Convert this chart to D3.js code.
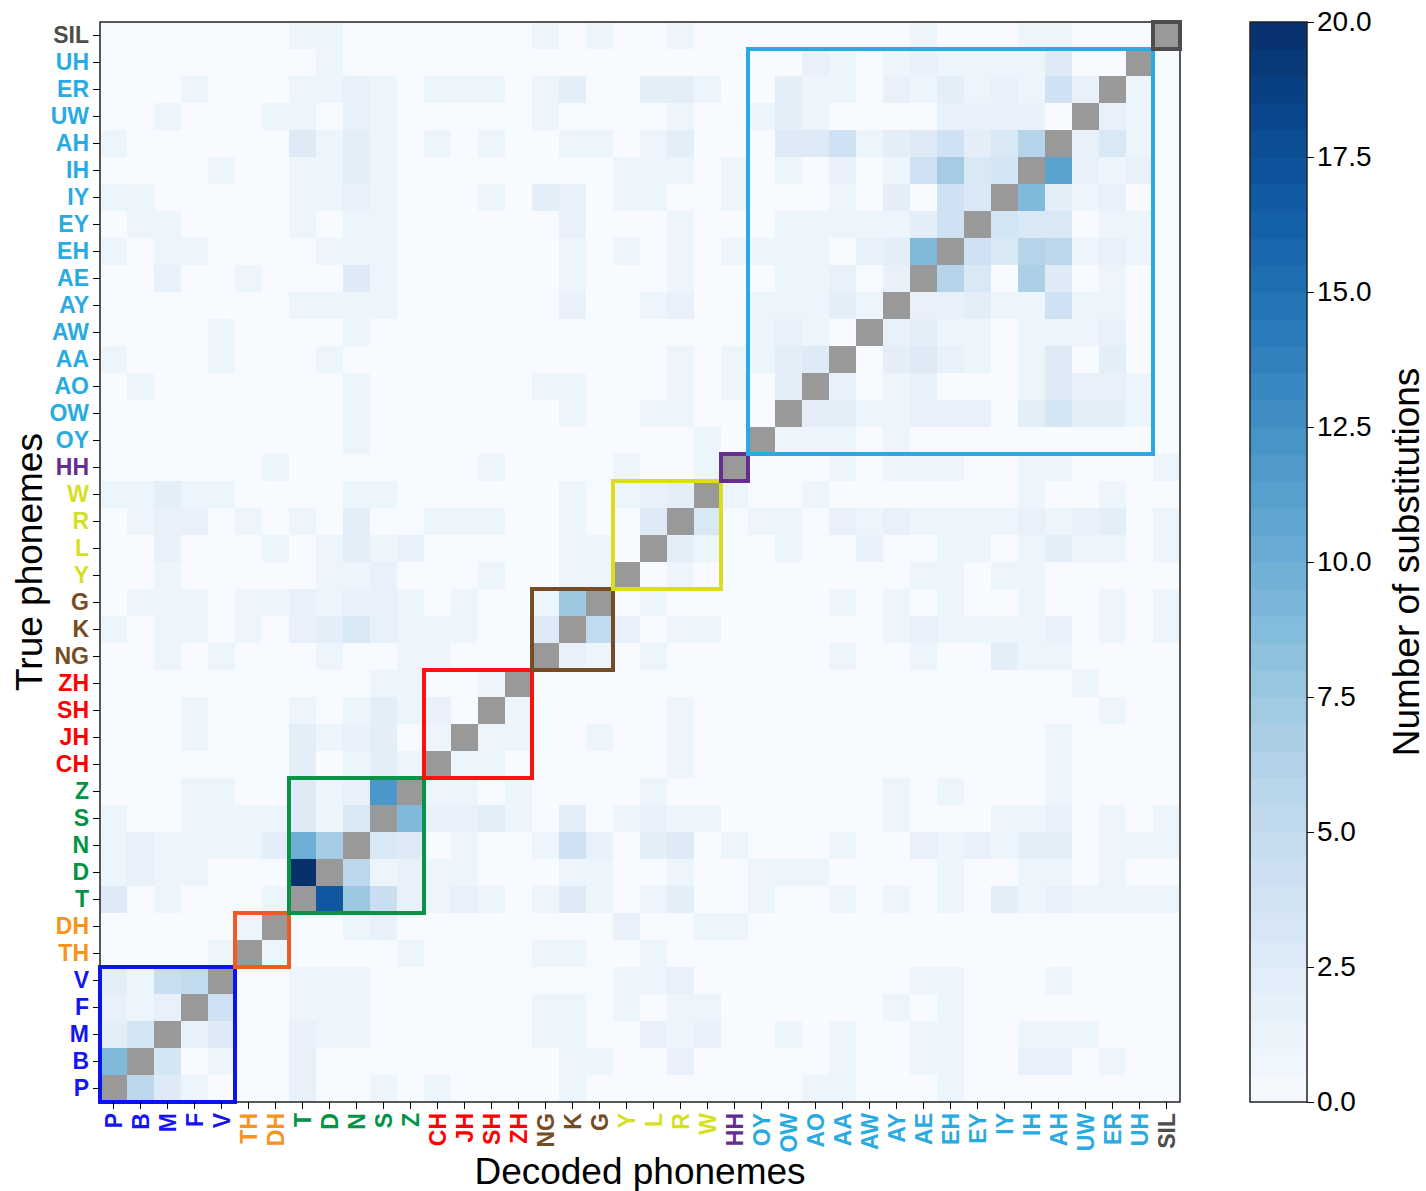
<!DOCTYPE html>
<html>
<head>
<meta charset="utf-8">
<script src="https://cdn.jsdelivr.net/npm/d3@7"></script>
<style>
    body { margin: 0; background: #fff; }
    svg text { font-family: "Liberation Sans", Arial, Helvetica, sans-serif; }
</style>
</head>
<body>
<script>
// phoneme order, bottom-left to top-right of the matrix
var phonemes = ["P", "B", "M", "F", "V", "TH", "DH", "T", "D", "N", "S", "Z",
    "CH", "JH", "SH", "ZH", "NG", "K", "G", "Y", "L", "R", "W", "HH",
    "OY", "OW", "AO", "AA", "AW", "AY", "AE", "EH", "EY", "IY", "IH", "AH",
    "UW", "ER", "UH", "SIL"];

var groupMembers = [
    ["P", "B", "M", "F", "V"],
    ["TH", "DH"],
    ["T", "D", "N", "S", "Z"],
    ["CH", "JH", "SH", "ZH"],
    ["NG", "K", "G"],
    ["Y", "L", "R", "W"],
    ["HH"],
    ["OY", "OW", "AO", "AA", "AW", "AY", "AE", "EH", "EY", "IY", "IH", "AH", "UW", "ER", "UH"],
    ["SIL"]
];

var colorbarTicks = [0, 2.5, 5, 7.5, 10, 12.5, 15, 17.5, 20];

// [true phoneme, decoded phoneme, number of substitutions]
var substitutions = [
    ["SIL","T",1],["SIL","D",1],["SIL","NG",1],["SIL","G",1],["SIL","R",1],["SIL","AE",1],["SIL","IH",1],["SIL","AH",1],
    ["UH","D",1],["UH","AO",1.5],["UH","AA",1],["UH","AY",1],["UH","AE",1.5],["UH","EH",1],["UH","EY",1],["UH","IY",1],["UH","IH",1],["UH","AH",2.5],
    ["ER","F",1],["ER","T",1],["ER","D",1],["ER","N",1.5],["ER","S",1],["ER","CH",1],["ER","JH",1],["ER","SH",1],["ER","NG",1],["ER","K",2],["ER","L",2],["ER","R",2],["ER","W",1],["ER","OW",2],["ER","AO",1],["ER","AA",1],["ER","AY",1.5],["ER","AE",1],["ER","EH",2],["ER","EY",1],["ER","IY",1.5],["ER","IH",1],["ER","AH",4],["ER","UW",1.5],["ER","UH",1],
    ["UW","M",1],["UW","DH",1],["UW","T",1],["UW","N",1.5],["UW","S",1],["UW","NG",1],["UW","R",1],["UW","OY",1],["UW","OW",2],["UW","AO",1],["UW","EH",1.5],["UW","EY",1.5],["UW","IY",1.5],["UW","IH",1.5],["UW","ER",1.5],["UW","UH",1],
    ["AH","P",1],["AH","T",2.5],["AH","D",1],["AH","N",2],["AH","S",1],["AH","CH",1],["AH","SH",1],["AH","K",1],["AH","G",1],["AH","L",1],["AH","R",2],["AH","OW",2.5],["AH","AO",2.5],["AH","AA",4],["AH","AW",1],["AH","AY",2],["AH","AE",2.5],["AH","EH",4],["AH","EY",2],["AH","IY",3],["AH","IH",6],["AH","UW",1.5],["AH","ER",3],["AH","UH",1],
    ["IH","V",1],["IH","T",1],["IH","D",1],["IH","N",2],["IH","S",1],["IH","Y",1],["IH","L",1],["IH","R",1],["IH","HH",1],["IH","OW",1],["IH","AA",1.5],["IH","AY",1],["IH","AE",4],["IH","EH",7],["IH","EY",3],["IH","IY",3.5],["IH","AH",11],["IH","UW",1.5],["IH","ER",1],["IH","UH",1.5],
    ["IY","P",1],["IY","B",1],["IY","T",1],["IY","D",1],["IY","N",1.5],["IY","S",1],["IY","SH",1],["IY","NG",2],["IY","K",1.5],["IY","Y",1],["IY","L",1],["IY","HH",1],["IY","AA",1],["IY","AY",2],["IY","EH",4],["IY","EY",3],["IY","IH",9],["IY","AH",2],["IY","UW",1],["IY","ER",1.5],
    ["EY","B",1],["EY","M",1],["EY","T",1],["EY","N",1],["EY","S",1],["EY","K",1.5],["EY","R",1],["EY","OW",1],["EY","AO",1],["EY","AA",1],["EY","AW",1],["EY","AY",1],["EY","AE",2],["EY","EH",4],["EY","IY",3.5],["EY","IH",3],["EY","AH",3],["EY","ER",1],["EY","UH",1],
    ["EH","P",1],["EH","M",1],["EH","F",1],["EH","D",1],["EH","N",1],["EH","S",1],["EH","K",1],["EH","Y",1],["EH","R",1],["EH","HH",1],["EH","OY",1],["EH","OW",1],["EH","AO",1],["EH","AW",1.5],["EH","AY",2],["EH","AE",9],["EH","EY",4],["EH","IY",3],["EH","IH",6],["EH","AH",5.5],["EH","UW",1],["EH","ER",1.5],["EH","UH",1],
    ["AE","M",1.5],["AE","TH",1],["AE","N",2.5],["AE","S",1],["AE","K",1],["AE","R",1],["AE","OW",1],["AE","AO",1],["AE","AA",1.5],["AE","AY",1.5],["AE","EH",6],["AE","EY",3],["AE","IH",6.5],["AE","AH",2.5],["AE","ER",1],
    ["AY","T",1],["AY","D",1],["AY","N",1],["AY","S",1],["AY","K",1.5],["AY","L",1],["AY","R",1.5],["AY","OY",1],["AY","OW",1],["AY","AO",1],["AY","AA",2],["AY","AW",1],["AY","AE",1.5],["AY","EH",1.5],["AY","EY",2],["AY","IY",1],["AY","IH",1],["AY","AH",4],["AY","UW",1],["AY","ER",1],
    ["AW","V",1],["AW","N",1],["AW","OY",1],["AW","OW",1.5],["AW","AO",1],["AW","AY",1.5],["AW","AE",2],["AW","EH",1],["AW","EY",1],["AW","IH",1],["AW","AH",1],["AW","UW",1],["AW","ER",1.5],
    ["AA","P",1],["AA","V",1],["AA","D",1],["AA","R",1],["AA","HH",1],["AA","OY",1],["AA","OW",2],["AA","AO",2.5],["AA","AY",2],["AA","AE",2.5],["AA","EH",1.5],["AA","EY",1],["AA","IH",1],["AA","AH",2.5],["AA","ER",2],
    ["AO","B",1],["AO","N",1],["AO","NG",1],["AO","K",1],["AO","R",1],["AO","HH",1],["AO","OW",2],["AO","AA",1.5],["AO","AY",1],["AO","AE",1.5],["AO","IH",1],["AO","AH",2.5],["AO","UW",1.5],["AO","ER",1.5],["AO","UH",1],
    ["OW","N",1],["OW","K",1],["OW","L",1],["OW","R",1],["OW","AO",2],["OW","AA",2],["OW","AW",1],["OW","AY",1],["OW","AE",1.5],["OW","EH",1.5],["OW","EY",1.5],["OW","IH",2],["OW","AH",3.5],["OW","UW",2],["OW","ER",2],["OW","UH",1],
    ["OY","N",1],["OY","W",1],["OY","OW",1],["OY","AO",1],["OY","AA",1],["OY","AY",1],
    ["HH","DH",1],["HH","SH",1],["HH","Y",1],["HH","W",1],["HH","AA",1],["HH","AY",1],["HH","AE",1],["HH","EH",1],["HH","IH",1],["HH","AH",1],["HH","SIL",1],
    ["W","P",1],["W","B",1],["W","M",2],["W","F",1],["W","V",1],["W","N",1],["W","S",1],["W","K",1],["W","Y",1],["W","L",1.5],["W","R",2],["W","HH",1],["W","AO",1],["W","IH",1],["W","ER",1],
    ["R","B",1],["R","M",1.5],["R","F",1.5],["R","TH",1],["R","T",1],["R","N",2],["R","CH",1],["R","JH",1],["R","SH",1],["R","K",1],["R","L",2.5],["R","W",3],["R","OY",1],["R","OW",1],["R","AA",1.5],["R","AW",1],["R","AY",1.5],["R","AE",1],["R","EH",1],["R","EY",1],["R","IY",1],["R","IH",1.5],["R","AH",1],["R","UW",1.5],["R","ER",2],["R","SIL",1],
    ["L","M",1.5],["L","DH",1],["L","D",1],["L","N",2],["L","S",1],["L","Z",1.5],["L","K",1],["L","G",1],["L","R",2],["L","W",1],["L","OW",1],["L","AW",1.5],["L","EH",1],["L","EY",1],["L","IH",1],["L","AH",2],["L","UW",1],["L","ER",1],["L","SIL",1],
    ["Y","M",1],["Y","D",1],["Y","N",1],["Y","S",1.5],["Y","SH",1],["Y","K",1],["Y","G",1],["Y","R",1],["Y","AE",1],["Y","EH",1],["Y","IY",1],["Y","IH",1],
    ["G","B",1],["G","M",1],["G","F",1],["G","TH",1],["G","DH",1],["G","T",1.5],["G","D",1],["G","N",1.5],["G","S",1.5],["G","Z",1],["G","JH",1],["G","NG",1],["G","K",7.5],["G","L",1],["G","AA",1],["G","AY",1],["G","EH",1],["G","IH",1],["G","ER",1],["G","SIL",1],
    ["K","P",1],["K","M",1],["K","F",1],["K","TH",1],["K","T",1.5],["K","D",2],["K","N",3],["K","S",1.5],["K","Z",1],["K","CH",1],["K","JH",1],["K","NG",2.5],["K","G",5],["K","Y",1.5],["K","R",1],["K","W",1],["K","AY",1],["K","AE",1.5],["K","EH",1],["K","EY",1],["K","IY",1],["K","IH",1],["K","AH",1.5],["K","ER",1],["K","SIL",1],
    ["NG","M",1],["NG","V",1],["NG","D",1],["NG","Z",1],["NG","CH",1],["NG","K",1.5],["NG","G",1],["NG","L",1],["NG","AA",1],["NG","AE",1],["NG","IY",2],["NG","IH",1],["NG","AH",1],
    ["ZH","S",1],["ZH","Z",1],["ZH","SH",1],["ZH","UW",1],
    ["SH","F",1],["SH","T",1],["SH","N",1],["SH","S",2],["SH","Z",1],["SH","CH",1.5],["SH","ZH",1],["SH","R",1],["SH","ER",1],
    ["JH","F",1],["JH","T",2],["JH","D",1],["JH","N",1.5],["JH","S",2],["JH","CH",1],["JH","SH",1],["JH","ZH",1],["JH","G",1],["JH","R",1],["JH","AH",1],
    ["CH","T",2],["CH","N",1],["CH","S",2],["CH","Z",1],["CH","JH",1],["CH","SH",1],["CH","R",1],["CH","AH",1],
    ["Z","F",1],["Z","V",1],["Z","T",2.5],["Z","D",1],["Z","N",1.5],["Z","S",12],["Z","CH",1],["Z","JH",1],["Z","ZH",1],["Z","L",1],["Z","AY",1],["Z","EH",1],["Z","AH",1],
    ["S","P",1],["S","F",1],["S","V",1],["S","TH",1],["S","DH",1],["S","T",2.5],["S","D",1],["S","N",3],["S","Z",9],["S","CH",1.5],["S","JH",1.5],["S","SH",2],["S","ZH",1],["S","K",2],["S","Y",1],["S","L",1.5],["S","R",1],["S","W",1],["S","AY",1],["S","IY",1],["S","IH",1],["S","AH",1.5],["S","ER",1],["S","SIL",1],
    ["N","P",1],["N","B",1.5],["N","M",1],["N","F",1],["N","V",1],["N","TH",1],["N","DH",2],["N","T",10],["N","D",7],["N","S",3],["N","Z",2.5],["N","JH",1],["N","NG",1],["N","K",4],["N","G",1.5],["N","L",2],["N","R",2.5],["N","HH",1],["N","AA",1],["N","AE",1.5],["N","EH",1],["N","EY",1.5],["N","IY",1],["N","IH",2],["N","AH",2],["N","ER",1],["N","UH",1],["N","SIL",1],
    ["D","P",1],["D","B",1.5],["D","M",1],["D","F",1],["D","T",20],["D","N",5.5],["D","S",1],["D","Z",1.5],["D","CH",1],["D","JH",1],["D","K",1],["D","G",1],["D","R",1],["D","OY",1],["D","OW",1],["D","AO",1],["D","EH",1],["D","IH",1],["D","AH",1],["D","ER",1],
    ["T","P",2.5],["T","M",1],["T","DH",1],["T","D",17],["T","N",7.5],["T","S",4.5],["T","Z",1.5],["T","CH",1],["T","JH",1.5],["T","SH",1],["T","NG",1],["T","K",2.5],["T","G",1],["T","L",1],["T","R",2],["T","OY",1],["T","AA",1],["T","AY",1],["T","EH",1],["T","IY",2],["T","IH",1],["T","AH",1.5],["T","UW",1],["T","ER",1],["T","UH",1],["T","SIL",1],
    ["DH","TH",1],["DH","N",1],["DH","S",1.5],["DH","Y",1.5],["DH","W",1],["DH","HH",1],
    ["TH","V",1],["TH","DH",1],["TH","Z",1],["TH","NG",1],["TH","K",1],["TH","L",1],
    ["V","P",2],["V","B",1],["V","M",4.5],["V","F",5],["V","T",1],["V","D",1],["V","N",1],["V","Y",1],["V","L",1],["V","R",1.5],["V","AE",1],["V","EH",1],["V","AH",1],
    ["F","P",1.5],["F","B",1],["F","M",1.5],["F","V",4],["F","T",1],["F","D",1],["F","N",1],["F","NG",1],["F","K",1],["F","Y",1],["F","R",1],["F","W",1],["F","AY",1],["F","EH",1],
    ["M","P",2],["M","B",3.5],["M","F",1.5],["M","V",2.5],["M","T",1.5],["M","D",1],["M","N",1],["M","NG",1],["M","K",1],["M","L",1.5],["M","R",1],["M","W",1.5],["M","OW",1],["M","AA",1],["M","AE",1],["M","EH",1],["M","IH",1],["M","AH",1],["M","UW",1],
    ["B","P",9],["B","M",3.5],["B","V",1],["B","T",1.5],["B","K",1],["B","G",1],["B","R",1.5],["B","AA",1],["B","AE",1],["B","EH",1],["B","IH",1.5],["B","AH",1.5],["B","ER",1],
    ["P","B",5.5],["P","M",2.5],["P","F",1],["P","T",1.5],["P","S",1],["P","CH",1],["P","K",1],["P","AO",1],["P","AA",1],["P","EH",1]
];

var labelColors = ["#1414f5", "#f7941d", "#009444", "#ff0000", "#754c24", "#d7df23", "#662d91", "#29abe2", "#4d4d4d"];
var boxColors = ["#0a14f0", "#f15a24", "#0a9346", "#ff1010", "#754c24", "#dade1e", "#662d91", "#29abe2", "#4d4d4d"];

var groupOf = {};
groupMembers.forEach(function(members, i) {
    members.forEach(function(p) { groupOf[p] = i; });
});

var lookup = {};
substitutions.forEach(function(s) { lookup[s[0] + '|' + s[1]] = s[2]; });

var cells = [];
phonemes.forEach(function(t) {
    phonemes.forEach(function(d) {
        cells.push({truth: t, decoded: d, n: lookup[t + '|' + d] || 0});
    });
});

var svg = d3.select('body').append('svg')
    .attr('width', 1426)
    .attr('height', 1191);

var x = d3.scaleBand().domain(phonemes).range([100, 1180]);
var y = d3.scaleBand().domain(phonemes.slice().reverse()).range([22, 1102]);
var color = d3.scaleSequential(d3.interpolateBlues).domain([0, 20]);
var bw = x.bandwidth();

svg.append('g')
    .selectAll('rect')
    .data(cells)
    .enter()
    .append('rect')
    .attr('x', function(d) { return x(d.decoded); })
    .attr('y', function(d) { return y(d.truth); })
    .attr('width', bw)
    .attr('height', bw)
    .attr('shape-rendering', 'crispEdges')
    .attr('fill', function(d) { return d.truth === d.decoded ? '#999999' : color(d.n); });

// frame
svg.append('rect')
    .attr('x', 100).attr('y', 22)
    .attr('width', 1080).attr('height', 1080)
    .attr('fill', 'none')
    .attr('stroke', '#222')
    .attr('stroke-width', 1.5);

// group boxes
svg.append('g')
    .selectAll('rect')
    .data(groupMembers)
    .enter()
    .append('rect')
    .attr('x', function(m) { return x(m[0]); })
    .attr('y', function(m) { return y(m[m.length - 1]); })
    .attr('width', function(m) { return x(m[m.length - 1]) + bw - x(m[0]); })
    .attr('height', function(m) { return y(m[0]) + bw - y(m[m.length - 1]); })
    .attr('fill', 'none')
    .attr('stroke', function(m, i) { return boxColors[i]; })
    .attr('stroke-width', 4);

// axes
var yAxis = svg.append('g')
    .attr('transform', 'translate(100,0)')
    .call(d3.axisLeft(y).tickSize(7).tickPadding(4));
yAxis.select('.domain').remove();
yAxis.attr('font-size', 23).attr('font-family', null);
yAxis.selectAll('text')
    .attr('fill', function(d) { return labelColors[groupOf[d]]; })
    .attr('font-weight', 'bold');

var xAxis = svg.append('g')
    .attr('transform', 'translate(0,1102)')
    .call(d3.axisBottom(x).tickSize(7).tickPadding(4));
xAxis.select('.domain').remove();
xAxis.attr('font-size', 23).attr('font-family', null);
xAxis.selectAll('text')
    .attr('transform', 'rotate(-90)')
    .attr('x', -11)
    .attr('y', 0)
    .attr('dy', '0.36em')
    .style('text-anchor', 'end')
    .attr('fill', function(d) { return labelColors[groupOf[d]]; })
    .attr('font-weight', 'bold');

svg.append('text')
    .attr('x', 640).attr('y', 1184)
    .attr('text-anchor', 'middle')
    .attr('font-size', 37)
    .text('Decoded phonemes');

svg.append('text')
    .attr('transform', 'translate(42,562) rotate(-90)')
    .attr('text-anchor', 'middle')
    .attr('font-size', 37)
    .text('True phonemes');

// colorbar
var yc = d3.scaleLinear().domain([0, 20]).range([1102, 22]);
var bands = d3.range(0, 20, 0.5);
svg.append('g')
    .selectAll('rect')
    .data(bands)
    .enter()
    .append('rect')
    .attr('x', 1250)
    .attr('y', function(v) { return yc(v + 0.5); })
    .attr('width', 57)
    .attr('height', function(v) { return yc(v) - yc(v + 0.5) + 0.5; })
    .attr('fill', function(v) { return color(v + 0.25); });

svg.append('rect')
    .attr('x', 1250).attr('y', 22)
    .attr('width', 57).attr('height', 1080)
    .attr('fill', 'none')
    .attr('stroke', '#222')
    .attr('stroke-width', 1.5);

var cAxis = svg.append('g')
    .attr('transform', 'translate(1307,0)')
    .call(d3.axisRight(yc).tickValues(colorbarTicks).tickFormat(d3.format('.1f')).tickSize(7).tickPadding(3));
cAxis.select('.domain').remove();
cAxis.attr('font-size', 28).attr('font-family', null);

svg.append('text')
    .attr('transform', 'translate(1419,562) rotate(-90)')
    .attr('text-anchor', 'middle')
    .attr('font-size', 37)
    .text('Number of substitutions');
</script>
</body>
</html>
